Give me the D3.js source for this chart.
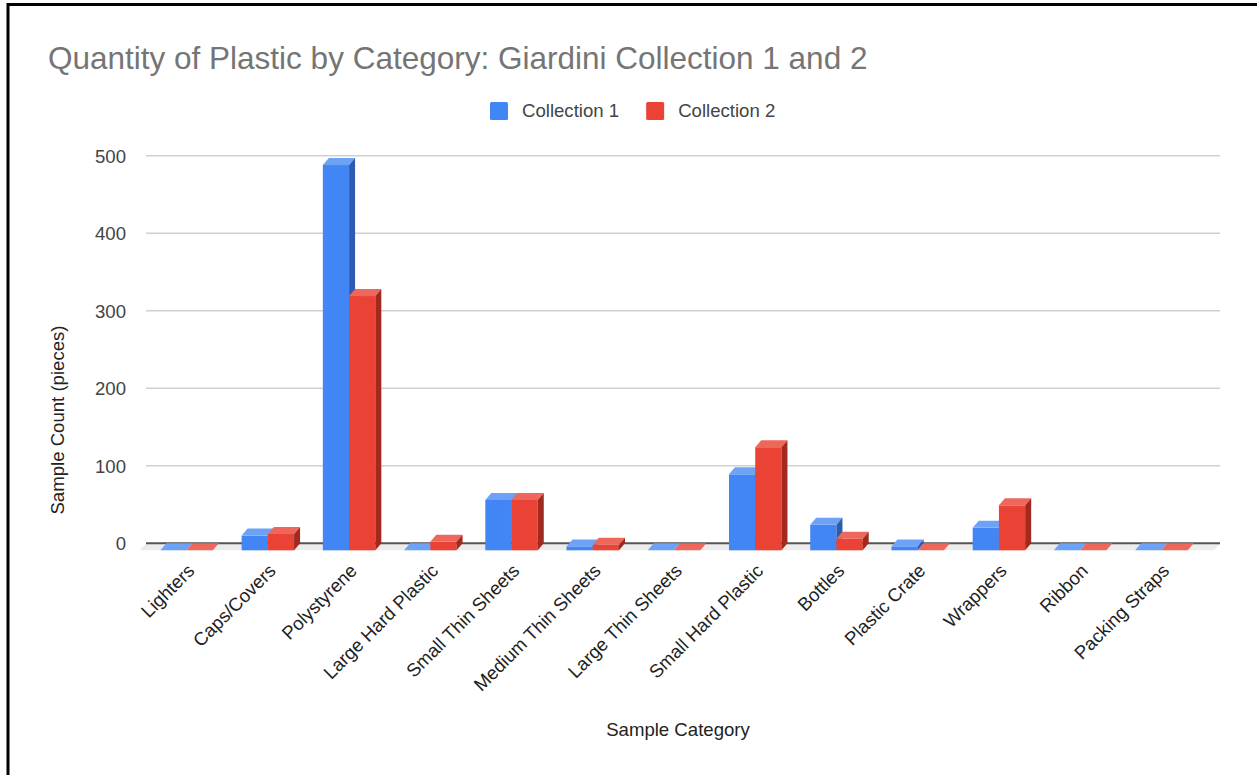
<!DOCTYPE html>
<html>
<head>
<meta charset="utf-8">
<script src="https://cdn.jsdelivr.net/npm/d3@7"></script>
<style>
  body { margin: 0; background: #fff; }
  svg { display: block; font-family: Arial, "Liberation Sans", sans-serif; }
</style>
</head>
<body>
<svg id="chart"></svg>
<script>
// values
const categories = ['Lighters', 'Caps/Covers', 'Polystyrene', 'Large Hard Plastic', 'Small Thin Sheets',
  'Medium Thin Sheets', 'Large Thin Sheets', 'Small Hard Plastic', 'Bottles', 'Plastic Crate',
  'Wrappers', 'Ribbon', 'Packing Straps']
const seriesNames = ['Collection 1', 'Collection 2']
const collection1 = [0, 19, 497, 0, 65, 5, 0, 98, 33, 5, 29, 0, 0]
const collection2 = [0, 21, 328, 11, 65, 7, 0, 133, 15, 0, 58, 0, 0]
const yTicks = [0, 100, 200, 300, 400, 500]

const width = 1257
const height = 775
const left = 146
const right = 1220
const depthX = 6   // 3d offset of the back face
const depthY = 7

const colors = {
  'Collection 1': { front: '#4285f4', top: '#6ea2f7', side: '#2c5bb0' },
  'Collection 2': { front: '#ea4335', top: '#ee675b', side: '#a2291f' }
}

const svg = d3.select('#chart')
  .attr('width', width)
  .attr('height', height)

// frame (left + top edge of the screenshot)
svg.append('path')
  .attr('d', `M8,${height} L8,4.5 L${width},4.5`)
  .attr('fill', 'none')
  .attr('stroke', '#000')
  .attr('stroke-width', 3)

const y = d3.scaleLinear().domain([0, 500]).range([543.3, 155.7])

const x0 = d3.scaleBand()
  .domain(categories)
  .range([left, right - 18])
  .paddingInner(0.354)
  .paddingOuter(0.177)

const x1 = d3.scaleBand()
  .domain(seriesNames)
  .range([0, x0.bandwidth()])

// title
svg.append('text')
  .attr('x', 48)
  .attr('y', 69)
  .attr('fill', '#757575')
  .style('font-size', '31.5px')
  .text('Quantity of Plastic by Category: Giardini Collection 1 and 2')

// legend
let lx = 490
seriesNames.forEach(name => {
  svg.append('rect')
    .attr('x', lx).attr('y', 102)
    .attr('width', 18).attr('height', 18)
    .attr('rx', 1.5)
    .attr('fill', colors[name].front)
  const t = svg.append('text')
    .attr('x', lx + 32).attr('y', 117)
    .attr('fill', '#444')
    .style('font-size', '18.6px')
    .text(name)
  lx += 32 + t.node().getComputedTextLength() + 27
})

// gridlines
svg.append('g')
  .selectAll('line')
  .data(yTicks.filter(d => d > 0))
  .join('line')
    .attr('x1', left).attr('x2', right)
    .attr('y1', d => y(d)).attr('y2', d => y(d))
    .attr('stroke', '#d0d0d0')
    .attr('stroke-width', 1.4)

// y tick labels
svg.append('g')
  .selectAll('text')
  .data(yTicks)
  .join('text')
    .attr('x', 126)
    .attr('y', d => y(d) + 7)
    .attr('text-anchor', 'end')
    .attr('fill', '#444')
    .style('font-size', '18.6px')
    .text(d => d)

// floor under the zero line
svg.append('polygon')
  .attr('points', [[left, y(0)], [right, y(0)], [right - depthX, y(0) + depthY], [left - depthX, y(0) + depthY]].join(' '))
  .attr('fill', '#ececec')

svg.append('line')
  .attr('x1', left).attr('x2', right)
  .attr('y1', y(0)).attr('y2', y(0))
  .attr('stroke', '#555')
  .attr('stroke-width', 2)

// bars, drawn as 3d boxes
const rows = categories.map((c, i) => ({ category: c, values: [collection1[i], collection2[i]] }))

const groups = svg.append('g')
  .selectAll('g')
  .data(rows)
  .join('g')
    .attr('transform', d => `translate(${x0(d.category)},0)`)

seriesNames.forEach((name, si) => {
  const bw = x1.bandwidth()
  const fx = x1(name)
  const col = colors[name]

  groups.append('rect')
    .attr('x', fx)
    .attr('y', d => y(d.values[si]) + depthY)
    .attr('width', bw)
    .attr('height', d => y(0) - y(d.values[si]))
    .attr('fill', col.front)

  groups.append('polygon')
    .attr('points', d => {
      const top = y(d.values[si])
      return [[fx, top + depthY], [fx + bw, top + depthY], [fx + bw + depthX, top], [fx + depthX, top]].join(' ')
    })
    .attr('fill', col.top)

  groups.append('polygon')
    .attr('points', d => {
      const top = y(d.values[si])
      return [[fx + bw, top + depthY], [fx + bw + depthX, top], [fx + bw + depthX, y(0)], [fx + bw, y(0) + depthY]].join(' ')
    })
    .attr('fill', col.side)
})

// x labels
svg.append('g')
  .selectAll('text')
  .data(categories)
  .join('text')
    .attr('transform', d => `translate(${x0(d) + x0.bandwidth() / 2 + 9},572) rotate(-45)`)
    .attr('text-anchor', 'end')
    .attr('fill', '#222')
    .style('font-size', '18.6px')
    .text(d => d)

// axis titles
svg.append('text')
  .attr('x', 678)
  .attr('y', 736)
  .attr('text-anchor', 'middle')
  .attr('fill', '#222')
  .style('font-size', '18.6px')
  .text('Sample Category')

svg.append('text')
  .attr('transform', 'translate(64,420) rotate(-90)')
  .attr('text-anchor', 'middle')
  .attr('fill', '#222')
  .style('font-size', '18.6px')
  .text('Sample Count (pieces)')
</script>
</body>
</html>
